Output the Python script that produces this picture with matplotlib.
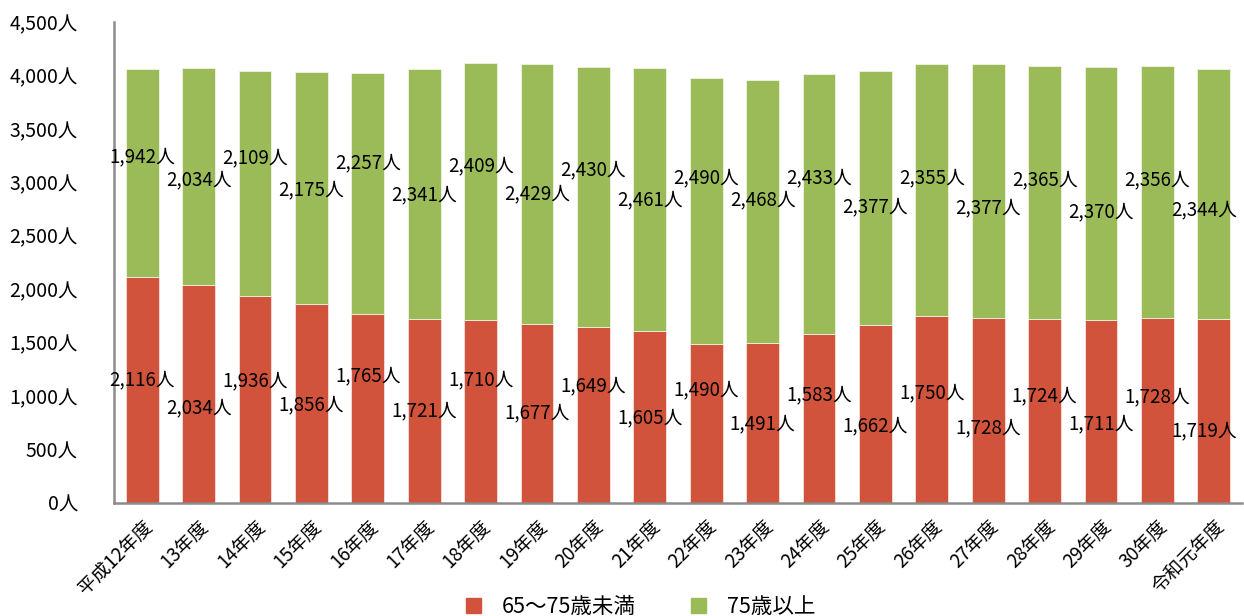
import matplotlib.pyplot as plt
from matplotlib.patches import Patch
import numpy as np

plt.rcParams['font.family'] = ['Noto Sans CJK JP', 'DejaVu Sans']

# 年度ごとの人数
years = ['平成12年度', '13年度', '14年度', '15年度', '16年度', '17年度', '18年度',
         '19年度', '20年度', '21年度', '22年度', '23年度', '24年度', '25年度',
         '26年度', '27年度', '28年度', '29年度', '30年度', '令和元年度']
under75 = [2116, 2034, 1936, 1856, 1765, 1721, 1710, 1677, 1649, 1605,
           1490, 1491, 1583, 1662, 1750, 1728, 1724, 1711, 1728, 1719]
over75 = [1942, 2034, 2109, 2175, 2257, 2341, 2409, 2429, 2430, 2461,
          2490, 2468, 2433, 2377, 2355, 2377, 2365, 2370, 2356, 2344]

# ラベルの縦位置（元の図で手動配置されている）
under_lab_y = [1149, 887, 1139, 915, 1186, 858, 1149, 840, 1092, 793,
               1055, 737, 1008, 718, 1027, 699, 999, 737, 989, 671]
over_lab_y = [3236, 3021, 3227, 2925, 3180, 2881, 3152, 2890, 3115, 2834,
              3040, 2834, 3040, 2768, 3040, 2759, 3021, 2721, 3021, 2740]

red = '#D2533B'
green = '#9BBB59'

fig = plt.figure(figsize=(12.44, 6.16), dpi=100)
ax = fig.add_axes([114 / 1244, (616 - 502.7) / 616, 1128 / 1244, 480.7 / 616])

x = np.arange(len(years))
ax.bar(x, under75, width=0.58, color=red, edgecolor='#f4e0dc', linewidth=0.6)
ax.bar(x, over75, width=0.58, bottom=under75, color=green, edgecolor='#eef4e2', linewidth=0.6)

for i in range(len(years)):
    # 右端のラベルは枠に収まるよう少し左へ
    dx = -7 if i == len(years) - 1 else 0
    ax.annotate(f'{under75[i]:,}人', (x[i], under_lab_y[i]), xytext=(dx, 0),
                textcoords='offset points', ha='center', va='center', fontsize=13.5)
    ax.annotate(f'{over75[i]:,}人', (x[i], over_lab_y[i]), xytext=(dx, 0),
                textcoords='offset points', ha='center', va='center', fontsize=13.5)

ax.set_xlim(-0.5, 19.5)
ax.set_ylim(0, 4500)
ax.set_yticks(range(0, 4501, 500))
ax.set_yticklabels([f'{v:,}人' for v in range(0, 4501, 500)], fontsize=14)
ax.set_xticks(x)
ax.set_xticklabels(years, rotation=45, ha='right', rotation_mode='anchor', fontsize=13.5)
ax.tick_params(axis='both', length=0)
ax.tick_params(axis='y', pad=26)
ax.tick_params(axis='x', pad=10)

for s in ['top', 'right']:
    ax.spines[s].set_visible(False)
for s in ['left', 'bottom']:
    ax.spines[s].set_color('#8c8c8c')
    ax.spines[s].set_linewidth(1.8)

handles = [Patch(color=red, label='65〜75歳未満'), Patch(color=green, label='75歳以上')]
fig.legend(handles=handles, loc='center', bbox_to_anchor=(0.515, 9 / 616), ncol=2,
           frameon=False, fontsize=15.5, handlelength=0.7, handleheight=0.7,
           columnspacing=2.6, handletextpad=0.95)

plt.savefig('out.png')
